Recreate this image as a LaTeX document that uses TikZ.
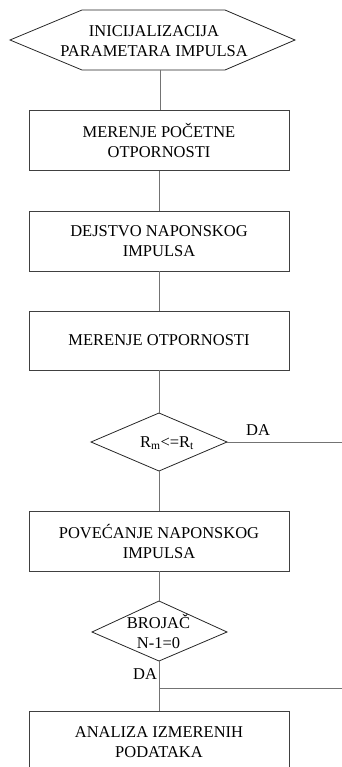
\documentclass[tikz,border=0pt]{standalone}
\usepackage{fontspec}
\setmainfont{Liberation Serif}
\begin{document}
\begin{tikzpicture}[x=1pt,y=-1pt,
  box/.style={draw=black!75, line width=0.8pt, minimum width=260pt, minimum height=60pt, align=center, font=\fontsize{16.5}{20}\selectfont, inner sep=0pt},
  conn/.style={draw=black!55, line width=0.7pt},
  shp/.style={draw=black!85, line width=0.8pt},
  lbl/.style={font=\fontsize{16.5}{20}\selectfont, inner sep=0pt, align=center}]
\useasboundingbox (0,0) rectangle (342,767);
% hexagon
\draw[shp] (10,40) -- (82,10) -- (225,10) -- (295,40) -- (225,70) -- (82,70) -- cycle;
\node[lbl] (init) at (154,41) {INICIJALIZACIJA\\PARAMETARA IMPULSA};
\coordinate (initb) at (160,70);
% boxes
\node[box] (b1) at (159,140.7) {MERENJE POČETNE\\OTPORNOSTI};
\node[box, minimum height=59.3pt] (b2) at (159,241.3) {DEJSTVO NAPONSKOG\\IMPULSA};
\node[box, minimum height=59pt] (b3) at (159,340.5) {MERENJE OTPORNOSTI};
\node[box] (b4) at (159,541) {POVEĆANJE NAPONSKOG\\IMPULSA};
\node[box] (b5) at (159,741.7) {ANALIZA IZMERENIH\\PODATAKA};
% diamond 1
\coordinate (d1t) at (159,413);
\coordinate (d1l) at (91,442);
\coordinate (d1r) at (227,442);
\coordinate (d1b) at (159,471);
\draw[shp] (d1t) -- (d1r) -- (d1b) -- (d1l) -- cycle;
\node[lbl] (d1) at (167,443) {R\textsubscript{m}<=R\textsubscript{t}};
\coordinate (d1out) at (342,442);
\node[lbl] (da1) at (258,430) {DA};
% diamond 2
\coordinate (d2t) at (159,601);
\coordinate (d2l) at (92,632);
\coordinate (d2r) at (227,632);
\coordinate (d2b) at (159,661);
\draw[shp] (d2t) -- (d2r) -- (d2b) -- (d2l) -- cycle;
\node[lbl] (d2) at (158.5,631) {BROJAČ\\N-1=0};
\node[lbl] (da2) at (145,674) {DA};
\coordinate (j) at (159,688);
\coordinate (jout) at (342,688);
% connectors
\draw[conn] (initb) -- (initb |- b1.north);
\draw[conn] (b1) -- (b2);
\draw[conn] (b2) -- (b3);
\draw[conn] (b3.south) -- (d1t);
\draw[conn] (d1r) -- (d1out);
\draw[conn] (d1b) -- (b4.north);
\draw[conn] (b4.south) -- (d2t);
\draw[conn] (d2b) -- (b5.north);
\draw[conn] (j) -- (jout);
\end{tikzpicture}
\end{document}
